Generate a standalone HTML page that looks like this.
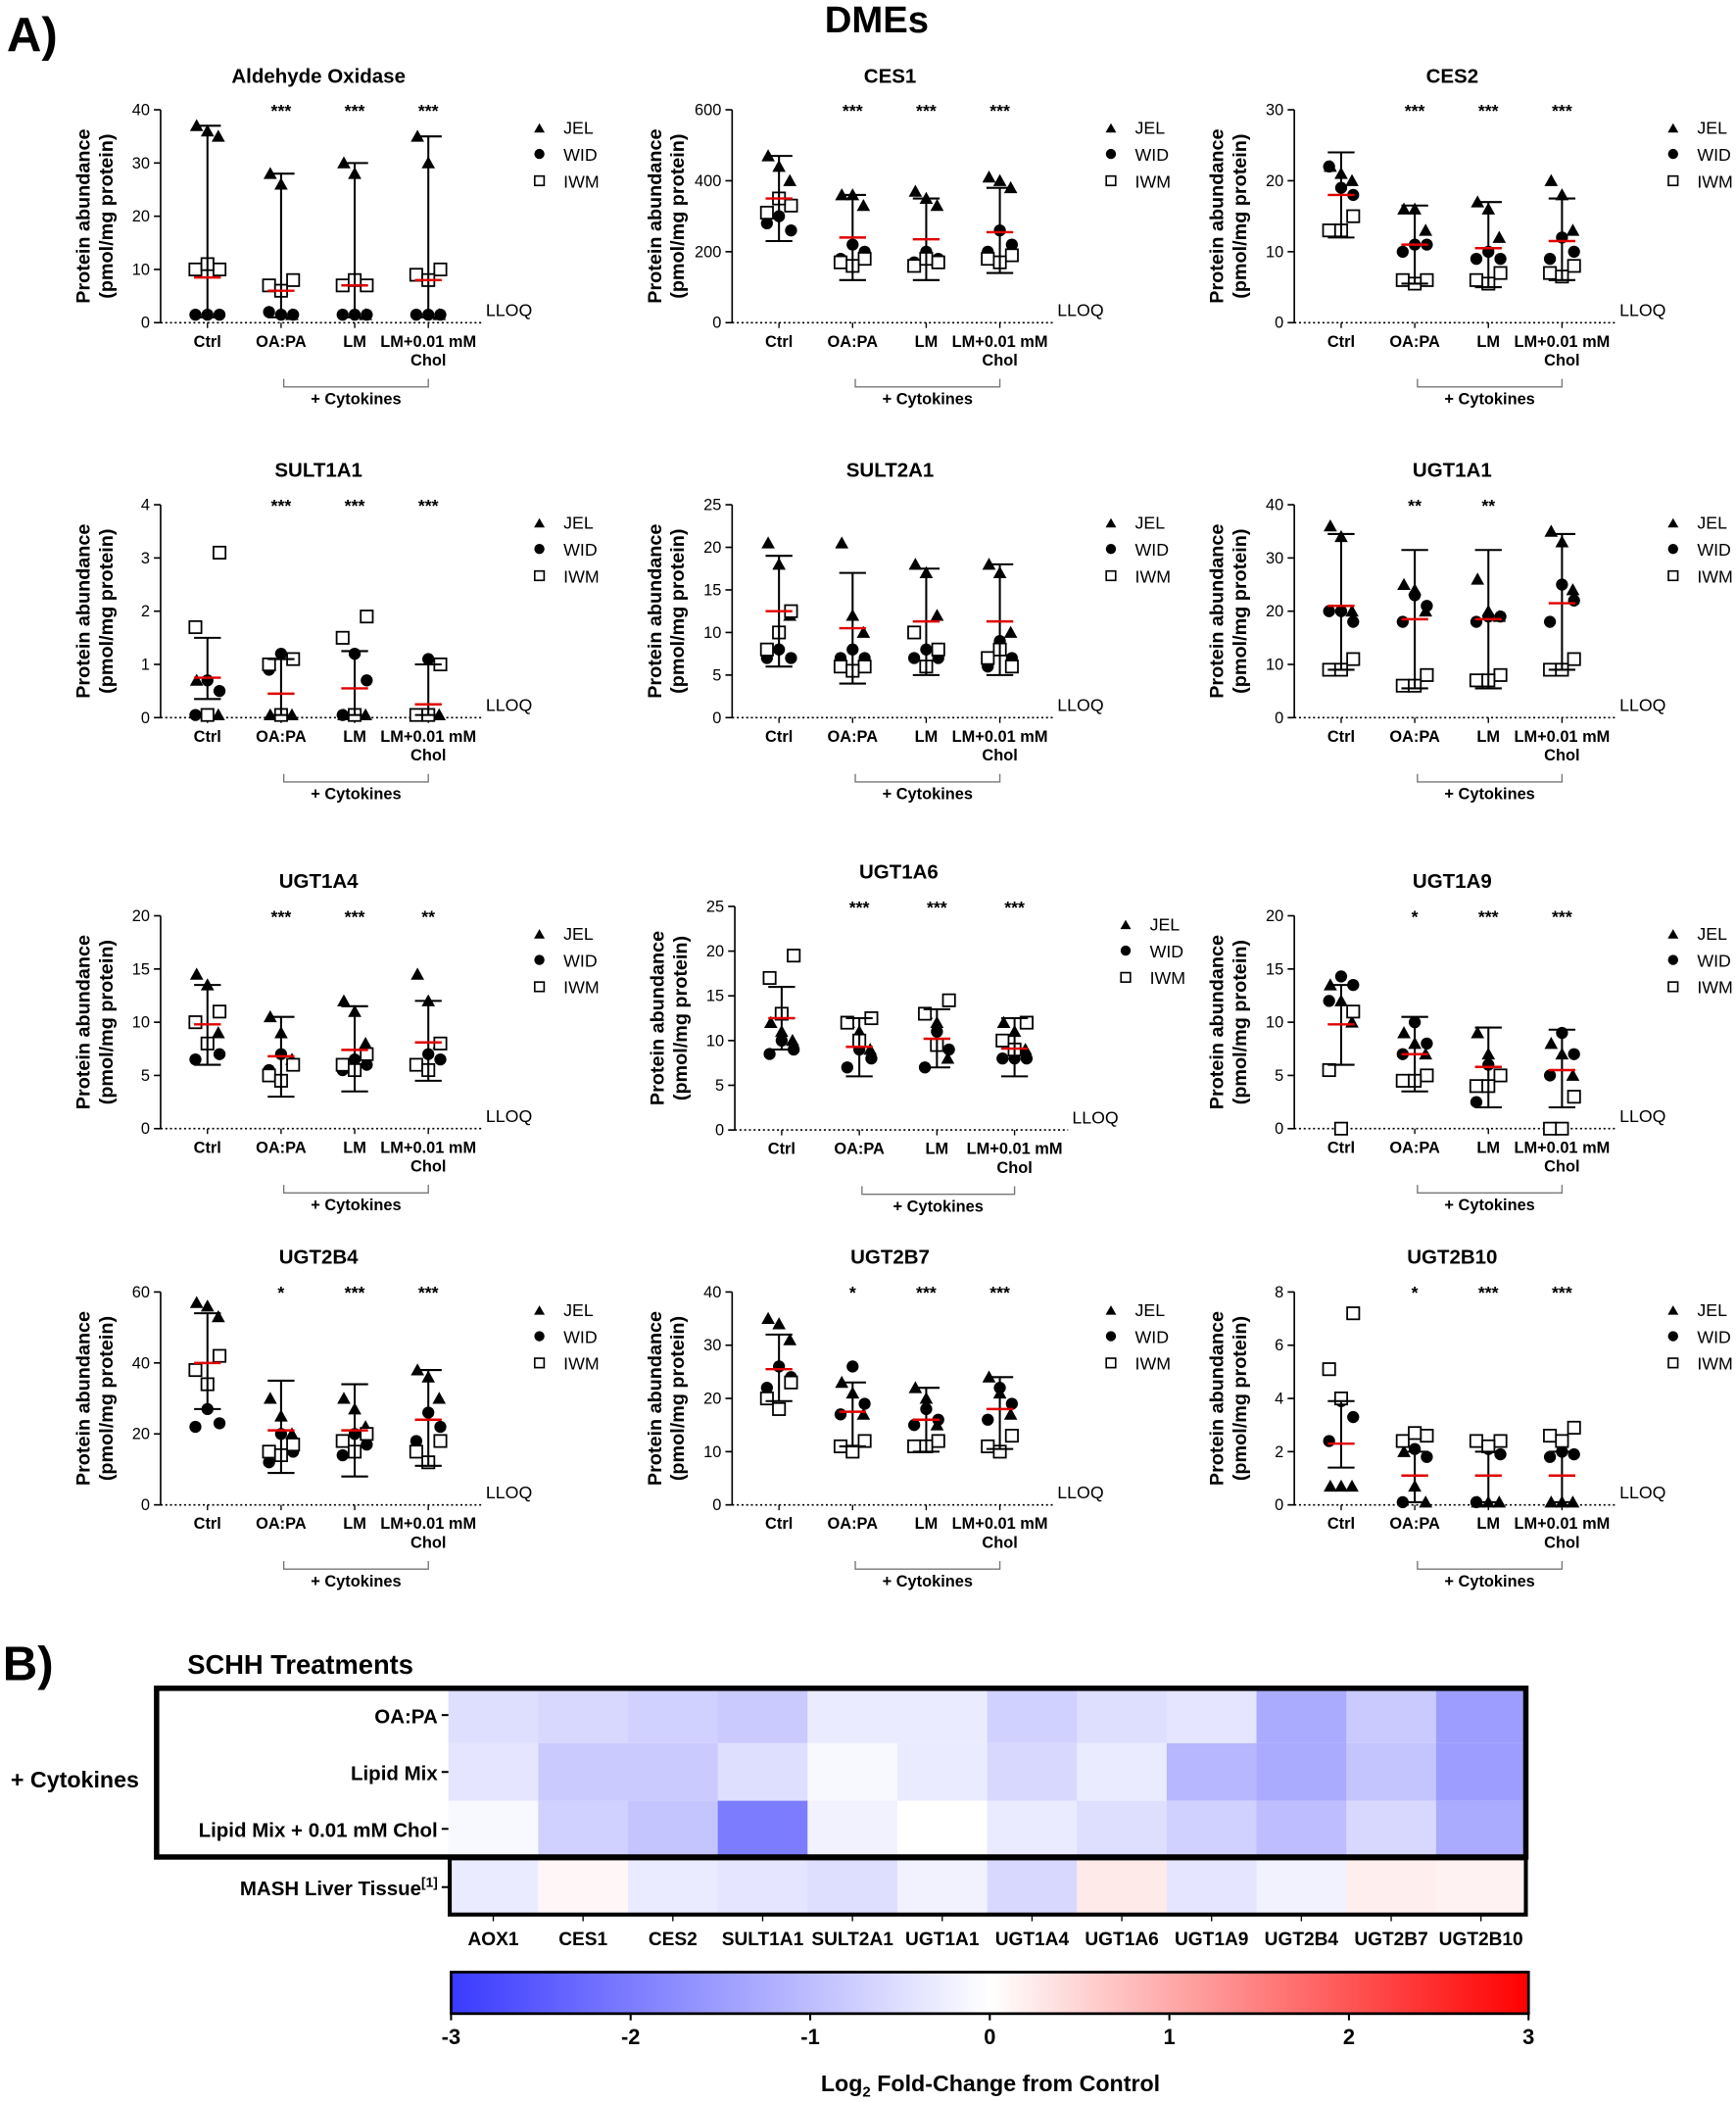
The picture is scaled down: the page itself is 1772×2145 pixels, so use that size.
<!DOCTYPE html>
<html><head><meta charset="utf-8"><style>
html,body{margin:0;padding:0;background:#fff}
svg{display:block;font-family:"Liberation Sans",Arial,sans-serif}
</style></head><body>
<svg id="fig" width="1772" height="2145" viewBox="0 0 1297 1570" preserveAspectRatio="none" xmlns="http://www.w3.org/2000/svg">
<rect width="1297" height="1570" fill="#fff"/>
<text x="5" y="38" font-size="36" font-weight="bold">A)</text>
<text x="655" y="24" font-size="28" font-weight="bold" text-anchor="middle">DMEs</text>
<text x="2" y="1255" font-size="36" font-weight="bold">B)</text>
<text x="140" y="1250" font-size="20" font-weight="bold">SCHH Treatments</text>
<g id="charts"></g>
<g id="heat"></g>
</svg>
<script>
const groups=["Ctrl","OA:PA","LM","LM+0.01 mM"];
const panelNames=["Aldehyde Oxidase","CES1","CES2","SULT1A1","SULT2A1","UGT1A1","UGT1A4","UGT1A6","UGT1A9","UGT2B4","UGT2B7","UGT2B10"];
const yMaxes=[40,600,30,4,25,40,20,25,20,60,40,8];
const ySteps=[10,200,10,1,5,10,5,5,5,20,10,2];
const stars=[["","***","***","***"],["","***","***","***"],["","***","***","***"],["","***","***","***"],["","","",""],["","**","**",""],["","***","***","**"],["","***","***","***"],["","*","***","***"],["","*","***","***"],["","*","***","***"],["","*","***","***"]];
const means=[[8.5,6,7,8],[350,240,235,255],[18,11,10.5,11.5],[0.75,0.45,0.55,0.25],[12.5,10.5,11.3,11.3],[21,18.5,18.5,21.5],[9.8,6.8,7.4,8.1],[12.5,9.3,10.2,9.1],[9.8,7,5.8,5.5],[40,21,21,24],[25.5,17.5,16,18],[2.3,1.1,1.1,1.1]];
const lows=[[1,1,1,1],[230,120,120,140],[12,5.5,5,6],[0.35,0.05,0.05,0.05],[6,4,5,5],[9,5.5,5.5,9],[6,3,3.5,4.5],[9,6,7,6],[6,3.5,2,2],[27,9,8,11],[19.5,11,10,10.5],[1.4,0.1,0.1,0.1]];
const highs=[[37,28,30,35],[470,360,350,380],[24,16.5,17,17.5],[1.5,1.1,1.25,1.0],[19,17,17.5,18],[34.5,31.5,31.5,34.5],[13.5,10.5,11.5,12],[16,12.5,13.5,12.5],[13.5,10.5,9.5,9.3],[54,35,34,38],[32,23,22,24],[3.9,2.0,2.0,2.0]];
const jel=[[[37,36,35],[28,26,1.5],[30,28,1.5],[35,30,1.5]],[[470,440,400],[360,360,330],[370,350,330],[410,400,380]],[[22,21,20],[16,16,13],[17,16,12],[20,18,13]],[[0.7,0.05,0.05],[0.05,0.05,0.05],[0.05,0.05,0.05],[0.05,0.05,0.05]],[[20.5,18,12],[20.5,12,10],[18,17,12],[18,17,10]],[[36,34,20],[25,24,20],[26,20,19],[35,33,24]],[[14.5,13.5,9],[10.5,9,6.5],[12,11,8],[14.5,12,8]],[[12,11,10],[12,11,9],[13,12,8],[12,11,9]],[[13.5,12,10],[9,8,7],[9,7,5],[8,7,5]],[[57,56,53],[30,25,20],[30,27,22],[38,36,30]],[[35,34,31],[23,21,17],[22,20,15],[24,21,17]],[[0.7,0.7,0.7],[2.0,0.7,0.1],[0.1,0.1,0.1],[0.1,0.1,0.1]]];
const wid=[[[1.5,1.5,1.5],[1.5,1.5,2],[1.5,1.5,1.5],[1.5,1.5,1.5]],[[300,260,280],[220,200,180],[200,180,170],[260,220,200]],[[19,18,22],[11,11,10],[10,9,9],[12,10,9]],[[0.7,0.5,0.05],[1.2,1.1,0.9],[1.2,0.7,0.05],[1.1,1.0,0.05]],[[8,7,7],[8,7,7],[8,7,7],[9,7,6]],[[20,18,20],[23,21,18],[19,19,18],[25,22,18]],[[8,7,6.5],[7,6,5.5],[6.5,6,5.5],[7,6.5,6]],[[10,9,8.5],[9,8,7],[11,9,7],[8,8,8]],[[14.3,13.5,12],[10,8,7],[6,5,2.5],[9,7,5]],[[27,23,22],[20,15,12],[20,17,14],[26,22,18]],[[26,24,22],[26,19,17],[18,16,15],[22,19,16]],[[3.9,3.3,2.4],[2.1,1.8,0.1],[2.1,1.9,0.1],[2.0,1.9,1.8]]];
const iwm=[[[10,10,11],[8,7,6],[7,7,8],[10,9,8]],[[330,310,350],[180,170,160],[170,160,180],[190,180,170]],[[15,13,13],[6,6,5.5],[7,6,5.5],[8,7,6.5]],[[3.1,1.7,0.05],[1.1,1.0,0.05],[1.9,1.5,0.05],[1.0,0.05,0.05]],[[12.5,8,10],[6,6,5.5],[8,10,6],[6,7,8]],[[11,9,9],[8,6,6],[8,7,7],[11,9,9]],[[11,10,8],[6,5,4.5],[7,6,5.5],[8,6,5.5]],[[19.5,17,13],[12.5,12,10],[14.5,13,9.5],[12,10,9]],[[11,5.5,0],[5,4.5,4.5],[5,4,4],[3,0,0]],[[42,38,34],[17,15,14],[20,18,15],[18,15,12]],[[23,20,18],[12,11,10],[12,11,11],[13,11,10]],[[7.2,5.1,4.0],[2.6,2.4,2.7],[2.4,2.4,2.2],[2.9,2.6,2.4]]];
const layout=[[120,82,241,62,55],[547,82,241,62,55],[967,82,241,62,55],[120,377,536,356,55],[547,377,536,356,55],[967,377,536,356,55],[120,684,843,663,55],[549,677,844,656,58],[967,684,843,663,55],[120,965,1124,944,55],[547,965,1124,944,55],[967,965,1124,944,55]];
const NS="http://www.w3.org/2000/svg";
function mk(tag,attrs,parent,txt){const e=document.createElementNS(NS,tag);for(const k in attrs)e.setAttribute(k,attrs[k]);if(txt!==undefined)e.textContent=txt;parent.appendChild(e);return e;}
const charts=document.getElementById('charts');
panelNames.forEach((nm,p)=>{
  const [L,T,B,TY,GS]=layout[p];
  const g=mk('g',{},charts);
  
  
  const ymax=yMaxes[p];
  const y=v=>B-(v/ymax)*(B-T);
  const gx=i=>L+35+i*GS;
  const t=mk('text',{x:L+118+(GS-55)*1.5,y:TY,'font-size':15,'font-weight':'bold','text-anchor':'middle'},g,nm);
  
  mk('line',{x1:L,y1:T,x2:L,y2:B,stroke:'#000','stroke-width':1.2},g);
  mk('line',{x1:L,y1:B,x2:L+240+(GS-55)*3,y2:B,stroke:'#000','stroke-width':1.2,'stroke-dasharray':'1.5,2'},g);
  for(let v=0;v<=ymax+1e-9;v+=ySteps[p]){
    mk('line',{x1:L-5,y1:y(v),x2:L,y2:y(v),stroke:'#000','stroke-width':1.2},g);
    const tl=mk('text',{x:L-8,y:y(v)+4,'font-size':12,'text-anchor':'end'},g,String(+v.toFixed(2)));
    
  }
  const yl=mk('text',{transform:`translate(${L-53},${(T+B)/2}) rotate(-90)`,'font-size':14.5,'font-weight':'bold','text-anchor':'middle'},g,'Protein abundance');
  
  mk('text',{transform:`translate(${L-36},${(T+B)/2}) rotate(-90)`,'font-size':14.5,'font-weight':'bold','text-anchor':'middle'},g,'(pmol/mg protein)');
  const ll=mk('text',{x:L+243+(GS-55)*3,y:B-5,'font-size':13},g,'LLOQ');
  
  groups.forEach((gn,i)=>{
    const x=gx(i);
    mk('line',{x1:x,y1:B,x2:x,y2:B+4,stroke:'#000'},g);
    const cl=mk('text',{x:x,y:B+18,'font-size':12,'font-weight':'bold','text-anchor':'middle'},g,gn);
    
    if(i==3) mk('text',{x:x,y:B+32,'font-size':12,'font-weight':'bold','text-anchor':'middle'},g,'Chol');
    if(stars[p][i]){const s=mk('text',{x:x,y:T+5,'font-size':13,'font-weight':'bold','text-anchor':'middle'},g,stars[p][i]);
      }
    const offs=[-9,0,9];
    jel[p][i].forEach((v,k)=>{const cx=x+offs[k]*0.9,cy=y(v);
      const m=mk('polygon',{points:`${cx},${cy-5} ${cx-5},${cy+4} ${cx+5},${cy+4}`,fill:'#000'},g);
      });
    wid[p][i].forEach((v,k)=>{const m=mk('circle',{cx:x+offs[(k+1)%3],cy:y(v),r:4.5,fill:'#000'},g);
      });
    iwm[p][i].forEach((v,k)=>{const m=mk('rect',{x:x+offs[(k+2)%3]-4.5,y:y(v)-4.5,width:9,height:9,fill:'#fff',stroke:'#000','stroke-width':1.3},g);
      });
    const eb=mk('g',{},g);
    mk('line',{x1:x,y1:y(lows[p][i]),x2:x,y2:y(highs[p][i]),stroke:'#000','stroke-width':1.5},eb);
    mk('line',{x1:x-10,y1:y(lows[p][i]),x2:x+10,y2:y(lows[p][i]),stroke:'#000','stroke-width':1.5},eb);
    mk('line',{x1:x-10,y1:y(highs[p][i]),x2:x+10,y2:y(highs[p][i]),stroke:'#000','stroke-width':1.5},eb);
    const mn=mk('line',{x1:x-10,y1:y(means[p][i]),x2:x+10,y2:y(means[p][i]),stroke:'#e00000','stroke-width':1.8},g);
    
  });
  const bx1=gx(1)+2,bx2=gx(3);
  mk('path',{d:`M${bx1},${B+42} V${B+48} H${bx2} V${B+42}`,fill:'none',stroke:'#777','stroke-width':1},g);
  const ck=mk('text',{x:(bx1+bx2)/2,y:B+61,'font-size':12,'font-weight':'bold','text-anchor':'middle'},g,'+ Cytokines');
  
  const lx=L+283+(GS-55)*3, ly=T+14;
  const lg=mk('g',{},g);
  mk('polygon',{points:`${lx},${ly-4} ${lx-4},${ly+3} ${lx+4},${ly+3}`,fill:'#000'},lg);
  mk('text',{x:lx+18,y:ly+4,'font-size':13},lg,'JEL');
  mk('circle',{cx:lx,cy:ly+19,r:3.8,fill:'#000'},lg);
  mk('text',{x:lx+18,y:ly+24,'font-size':13},lg,'WID');
  mk('rect',{x:lx-3.5,y:ly+35.5,width:7,height:7,fill:'#fff',stroke:'#000','stroke-width':1.2},lg);
  mk('text',{x:lx+18,y:ly+44,'font-size':13},lg,'IWM');
});

const genes=["AOX1","CES1","CES2","SULT1A1","SULT2A1","UGT1A1","UGT1A4","UGT1A6","UGT1A9","UGT2B4","UGT2B7","UGT2B10"];
const rowsLbl=["OA:PA","Lipid Mix","Lipid Mix + 0.01 mM Chol","MASH Liver Tissue"];
const fcOAPA=[-0.5,-0.6,-0.7,-0.8,-0.3,-0.3,-0.7,-0.5,-0.4,-1.3,-0.8,-1.5];
const fcLM=[-0.4,-0.8,-0.8,-0.5,-0.1,-0.3,-0.6,-0.3,-1.1,-1.3,-0.9,-1.5];
const fcLMChol=[-0.1,-0.7,-0.9,-2.0,-0.2,0,-0.3,-0.5,-0.7,-1.0,-0.6,-1.3];
const fcMASH=[-0.3,0.1,-0.3,-0.4,-0.5,-0.2,-0.6,0.25,-0.4,-0.2,0.2,0.15];
const scaleTicks=[-3,-2,-1,0,1,2,3];
const heat=document.getElementById('heat');
function col(v){v=Math.max(-3,Math.min(3,v));if(v<0){const t=-v/3;return `rgb(${Math.round(255-t*(255-58))},${Math.round(255-t*(255-58))},255)`;}
 const t=v/3;return `rgb(255,${Math.round(255*(1-t))},${Math.round(255*(1-t))})`;}
const HX0=335,HX1=1140,cw=(HX1-HX0)/12;
const rowY=[1260,1302,1345,1389],rowH=[42,43,42,41];
[fcOAPA,fcLM,fcLMChol,fcMASH].forEach((arr,r)=>{
  arr.forEach((v,c)=>{const rc=mk('rect',{x:HX0+c*cw,y:rowY[r],width:cw+0.5,height:rowH[r],fill:col(v)},heat);
    });
  mk('line',{x1:HX0-5,y1:rowY[r]+rowH[r]/2,x2:HX0,y2:rowY[r]+rowH[r]/2,stroke:'#000','stroke-width':1.5},heat);
  const t=mk('text',{x:HX0-8,y:rowY[r]+rowH[r]/2+6,'font-size':15,'font-weight':'bold','text-anchor':'end'},heat,rowsLbl[r]);
  
  if(r==3){mk('tspan',{'font-size':10,dy:-6},t,'[1]');}
});
genes.forEach((gn,c)=>{const x=HX0+(c+0.5)*cw;
  mk('line',{x1:x,y1:1430,x2:x,y2:1435,stroke:'#000'},heat);
  const t=mk('text',{x:x,y:1453,'font-size':14,'font-weight':'bold','text-anchor':'middle'},heat,gn);
  });
mk('rect',{x:117,y:1261,width:1023,height:126,fill:'none',stroke:'#000','stroke-width':4},heat);
mk('rect',{x:336,y:1388,width:804,height:42,fill:'none',stroke:'#000','stroke-width':3},heat);
const ct=mk('text',{x:8,y:1335,'font-size':17,'font-weight':'bold'},heat,'+ Cytokines');

const defs=mk('defs',{},heat);
const gr=mk('linearGradient',{id:'cb',x1:0,x2:1,y1:0,y2:0},defs);
scaleTicks.forEach((v,i)=>mk('stop',{offset:(i/6),'stop-color':col(v)},gr));
const CB0=337,CB1=1142;
const cb=mk('rect',{x:CB0,y:1473,width:CB1-CB0,height:31,fill:'url(#cb)',stroke:'#000','stroke-width':2},heat);

scaleTicks.forEach(v=>{const x=CB0+(v+3)/6*(CB1-CB0);
  mk('line',{x1:x,y1:1504,x2:x,y2:1509,stroke:'#000','stroke-width':1.5},heat);
  const t=mk('text',{x:x,y:1527,'font-size':16,'font-weight':'bold','text-anchor':'middle'},heat,String(v));
  });
const ctl=mk('text',{x:740,y:1562,'font-size':17,'font-weight':'bold','text-anchor':'middle'},heat,'Log');

mk('tspan',{'font-size':11,dy:4},ctl,'2');
mk('tspan',{dy:-4},ctl,' Fold-Change from Control');
</script>
</body></html>
